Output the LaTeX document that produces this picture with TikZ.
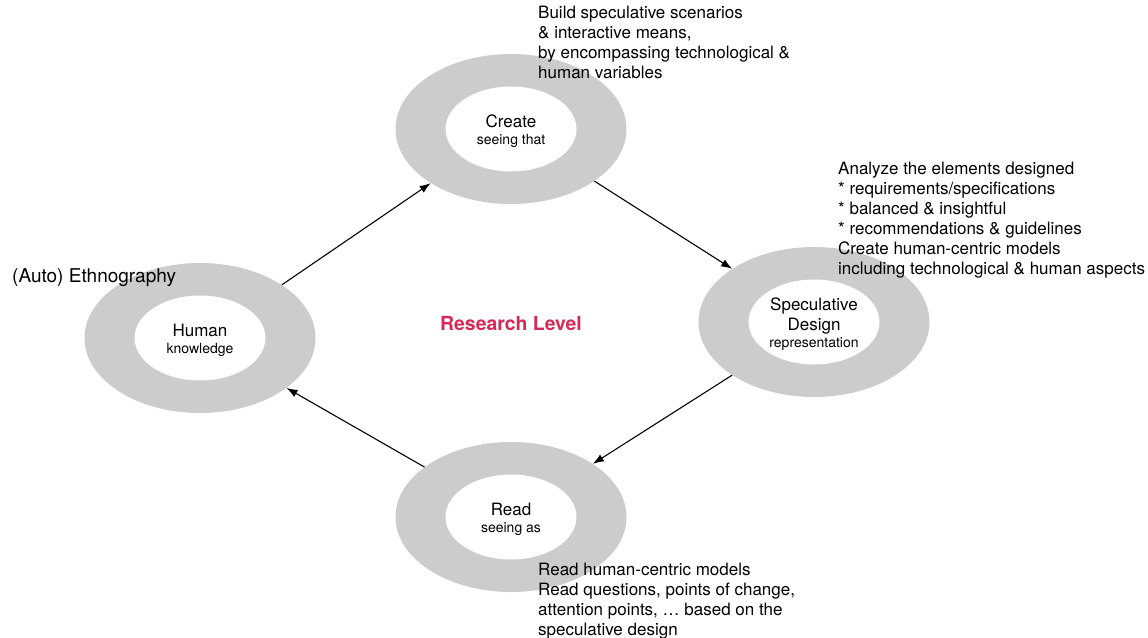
\documentclass[tikz,border=0pt]{standalone}
\usepackage{fontspec}
\setmainfont{TeX Gyre Heros}
\usetikzlibrary{shapes.geometric,arrows.meta}

\definecolor{ringgray}{RGB}{204,204,204}
\definecolor{levelred}{RGB}{214,41,88}
\newcommand{\sublabel}[1]{{\fontsize{14}{18}\selectfont #1}}

\begin{document}
\begin{tikzpicture}[x=1pt,y=-1pt,
    ring/.style={ellipse, fill=ringgray, minimum width=231pt, minimum height=150pt, inner sep=0pt},
    hole/.style={ellipse, fill=white, minimum width=131pt, minimum height=85pt, inner sep=0pt,
        align=center, font=\fontsize{17}{20}\selectfont},
    note/.style={anchor=north west, inner sep=0pt, align=left, font=\fontsize{17}{20}\selectfont},
    flow/.style={-{Latex[length=11pt,width=8pt]}, line width=1.1pt}]
    \useasboundingbox (0,0) rectangle (1148,637);
    %
    \node[ring] (human)  at (200,338) {};
    \node[ring] (create) at (511,129) {};
    \node[ring] (spec)   at (814,322) {};
    \node[ring] (read)   at (511,517) {};
    %
    \node[hole] (humanin)  at (human)  {};
    \node[hole] (createin) at (create) {};
    \node[hole] (specin)   at (spec)   {};
    \node[hole] (readin)   at (read)   {};
    %
    \node[align=center, font=\fontsize{17}{20}\selectfont, yshift=-2pt] (humantxt)  at (human)  {Human\\[-3pt] \sublabel{knowledge}};
    \node[align=center, font=\fontsize{17}{20}\selectfont, yshift=-2pt] (createtxt) at (create) {Create\\[-3pt] \sublabel{seeing that}};
    \node[align=center, font=\fontsize{17}{20}\selectfont, yshift=-2pt] (spectxt)   at (spec)   {Speculative\\ Design\\[-3pt] \sublabel{representation}};
    \node[align=center, font=\fontsize{17}{20}\selectfont, yshift=-2pt] (readtxt)   at (read)   {Read\\[-3pt] \sublabel{seeing as}};
    %
    \node[note] (buildnote) at (538,6) {Build speculative scenarios\\ \& interactive means,\\ by encompassing technological \&\\ human variables};
    \node[note] (analyzenote) at (838,162) {Analyze the elements designed\\ * requirements/specifications\\ * balanced \& insightful\\ * recommendations \& guidelines\\ Create human-centric models\\ including technological \& human aspects};
    \node[note] (readnote) at (538,563) {Read human-centric models\\ Read questions, points of change,\\ attention points, … based on the\\ speculative design};
    \node[note, font=\fontsize{19}{22}\selectfont] (ethno) at (12,268) {(Auto) Ethnography};
    %
    \node[font=\bfseries\fontsize{19.4}{23}\selectfont, text=levelred] (level) at (511,324) {Research Level};
    %
    \draw[flow] (human.33)  -- (create.214);
    \draw[flow] (create.-32) -- (spec.147);
    \draw[flow] (spec.213)  -- (read.33);
    \draw[flow] (read.150)  -- (human.-30);
\end{tikzpicture}
\end{document}
